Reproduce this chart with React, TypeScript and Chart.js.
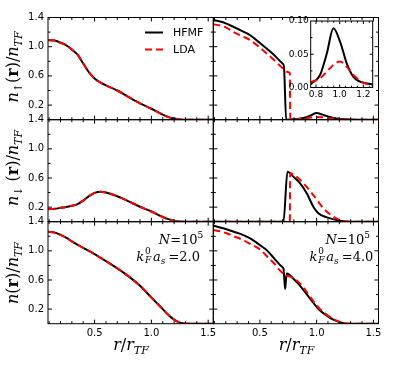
import React, { useEffect, useRef } from "react";
import { Chart, registerables } from "chart.js";

Chart.register(...registerables);

const FIG_W = 399;
const FIG_H = 369;

// ---------------- data ----------------
// left column: k_F^0 a_s = 2.0
const X_A2 = [0.09, 0.15, 0.2, 0.25, 0.3, 0.35, 0.4, 0.45, 0.5, 0.55, 0.6, 0.7, 0.8, 0.9, 1.0, 1.1, 1.15, 1.2, 1.25, 1.3, 1.4, 1.545];
const UP_A2_HFMF = [1.09, 1.085, 1.055, 1.02, 0.96, 0.89, 0.77, 0.65, 0.565, 0.51, 0.47, 0.4, 0.31, 0.225, 0.15, 0.07, 0.035, 0.015, 0.004, 0, 0, 0];
const UP_A2_LDA = [1.09, 1.085, 1.055, 1.02, 0.96, 0.89, 0.77, 0.65, 0.565, 0.51, 0.47, 0.4, 0.31, 0.225, 0.15, 0.07, 0.035, 0.015, 0.004, 0, 0, 0];
const DOWN_A2_HFMF = [0.172, 0.178, 0.19, 0.203, 0.218, 0.24, 0.29, 0.35, 0.395, 0.41, 0.4, 0.35, 0.28, 0.205, 0.14, 0.065, 0.035, 0.012, 0.002, 0, 0, 0];
const DOWN_A2_LDA = [0.172, 0.178, 0.19, 0.203, 0.218, 0.24, 0.29, 0.35, 0.395, 0.41, 0.4, 0.35, 0.28, 0.205, 0.14, 0.065, 0.035, 0.012, 0.002, 0, 0, 0];
const TOT_A2_HFMF = [1.262, 1.25, 1.22, 1.18, 1.13, 1.085, 1.04, 0.998, 0.955, 0.908, 0.86, 0.76, 0.65, 0.52, 0.36, 0.2, 0.12, 0.055, 0.015, 0.002, 0, 0];
const TOT_A2_LDA = [1.262, 1.25, 1.22, 1.18, 1.13, 1.085, 1.04, 0.998, 0.955, 0.908, 0.86, 0.76, 0.65, 0.52, 0.36, 0.2, 0.12, 0.055, 0.015, 0.002, 0, 0];

// right column: k_F^0 a_s = 4.0
const X_UP_A4_HFMF = [0.09, 0.15, 0.2, 0.27, 0.35, 0.415, 0.5, 0.56, 0.63, 0.7, 0.712, 0.732, 0.8, 0.9, 0.95, 1.0, 1.05, 1.1, 1.15, 1.2, 1.3, 1.4, 1.545];
const UP_A4_HFMF = [1.363, 1.345, 1.32, 1.27, 1.21, 1.157, 1.05, 0.975, 0.88, 0.77, 0.73, 0, 0.005, 0.03, 0.06, 0.092, 0.07, 0.045, 0.025, 0.012, 0.002, 0, 0];
const X_UP_A4_LDA = [0.09, 0.15, 0.2, 0.27, 0.35, 0.415, 0.5, 0.56, 0.63, 0.704, 0.745, 0.764, 0.768, 0.85, 0.9, 0.95, 1.0, 1.05, 1.1, 1.15, 1.2, 1.3, 1.545];
const UP_A4_LDA = [1.308, 1.29, 1.265, 1.2, 1.14, 1.089, 0.99, 0.906, 0.81, 0.7, 0.655, 0.64, 0, 0.01, 0.02, 0.03, 0.036, 0.035, 0.025, 0.015, 0.006, 0, 0];

const X_DOWN_A4_HFMF = [0.09, 0.5, 0.708, 0.743, 0.8, 0.855, 0.913, 0.971, 1.015, 1.089, 1.206, 1.294, 1.545];
const DOWN_A4_HFMF = [0, 0, 0, 0.686, 0.61, 0.526, 0.39, 0.206, 0.115, 0.06, 0.014, 0, 0];
const X_DOWN_A4_LDA = [0.09, 0.5, 0.764, 0.767, 0.855, 0.971, 1.06, 1.147, 1.235, 1.3, 1.545];
const DOWN_A4_LDA = [0, 0, 0, 0.664, 0.572, 0.366, 0.184, 0.069, 0.01, 0, 0];

const X_TOT_A4_HFMF = [0.09, 0.15, 0.2, 0.27, 0.35, 0.415, 0.5, 0.56, 0.63, 0.7, 0.708, 0.716, 0.723, 0.73, 0.738, 0.8, 0.855, 0.942, 1.03, 1.09, 1.147, 1.235, 1.3, 1.545];
const TOT_A4_HFMF = [1.345, 1.32, 1.3, 1.262, 1.22, 1.17, 1.08, 1.01, 0.89, 0.775, 0.758, 0.6, 0.48, 0.6, 0.69, 0.61, 0.52, 0.345, 0.18, 0.11, 0.055, 0.008, 0, 0];
const X_TOT_A4_LDA = [0.09, 0.15, 0.2, 0.27, 0.35, 0.415, 0.5, 0.56, 0.63, 0.68, 0.72, 0.767, 0.855, 0.943, 1.03, 1.147, 1.235, 1.3, 1.545];
const TOT_A4_LDA = [1.285, 1.27, 1.245, 1.2, 1.15, 1.095, 1.02, 0.93, 0.82, 0.725, 0.67, 0.645, 0.55, 0.37, 0.2, 0.065, 0.01, 0, 0];

// inset (n_up, k_F^0 a_s = 4.0, zoom on the outer shell)
const INSET_X = [0.755, 0.764, 0.834, 0.891, 0.947, 1.003, 1.06, 1.116, 1.173, 1.23, 1.279];
const INSET_HFMF = [0.005, 0.0063, 0.0188, 0.051, 0.089, 0.069, 0.036, 0.016, 0.0087, 0.006, 0.005];
const INSET_LDA = [0.008, 0.0087, 0.0138, 0.0238, 0.034, 0.039, 0.031, 0.0188, 0.0102, 0.005, 0.003];

// ticks / labels
const X_TICKS = [0.5, 1.0, 1.5];
const Y_TICKS = [0.2, 0.6, 1.0, 1.4];
const INSET_X_TICKS = [0.8, 1.0, 1.2];
const INSET_Y_TICKS = [0, 0.05, 0.1];
const SERIES_NAMES = ["HFMF", "LDA"];
const COUPLINGS = ["2.0", "4.0"];
const N_EXP = "5";

// ---------------- styling / layout ----------------
const BLACK = "#000000";
const RED = "#ff0000";
const DASH = [7, 4];
const TICK_FONT = "DejaVu Sans";
const MATH_FONT = '"DejaVu Serif", serif';

const COLS = [
  { l: 48, r: 213.3 },
  { l: 213.3, r: 378.5 },
];
const ROWS = [
  { t: 17.5, b: 119.7 },
  { t: 119.7, b: 221.7 },
  { t: 221.7, b: 323.7 },
];

function steps(a: number, b: number, s: number): number[] {
  const out: number[] = [];
  const n = Math.round((b - a) / s);
  for (let i = 0; i <= n; i++) out.push(Math.round((a + i * s) * 1000) / 1000);
  return out;
}

type Series = { x: number[]; y: number[]; color: string; dashed: boolean };
type PanelSpec = {
  key: string;
  left: number;
  right: number;
  top: number;
  bottom: number;
  xMin: number;
  xMax: number;
  yMin: number;
  yMax: number;
  showX: boolean;
  showY: boolean;
  xTicks: number[];
  yTicks: number[];
  xMinor: number[];
  yMinor: number[];
  xDigits: number;
  yDigits: number;
  fontSize: number;
  xPad: number;
  yPad: number;
  yAxisW: number;
  xAxisH: number;
  tickMajor: number;
  tickMinor: number;
  series: Series[];
  legend?: boolean;
};

function pair(xh: number[], yh: number[], xl: number[], yl: number[]): Series[] {
  return [
    { x: xh, y: yh, color: BLACK, dashed: false },
    { x: xl, y: yl, color: RED, dashed: true },
  ];
}

const MAIN_X_MINOR = steps(0.1, 1.5, 0.1);
const MAIN_Y_MINOR = steps(0.2, 1.2, 0.2);

function mainPanel(row: number, col: number, series: Series[], legend = false): PanelSpec {
  return {
    key: `p${row}${col}`,
    left: COLS[col].l,
    right: COLS[col].r,
    top: ROWS[row].t,
    bottom: ROWS[row].b,
    xMin: 0.09,
    xMax: 1.545,
    yMin: 0,
    yMax: 1.4,
    showX: row === 2,
    showY: col === 0,
    xTicks: X_TICKS,
    yTicks: Y_TICKS,
    xMinor: MAIN_X_MINOR,
    yMinor: MAIN_Y_MINOR,
    xDigits: 1,
    yDigits: 1,
    fontSize: 10,
    xPad: 4,
    yPad: 4,
    yAxisW: 34,
    xAxisH: 20,
    tickMajor: 4,
    tickMinor: 2.5,
    series,
    legend,
  };
}

const PANELS: PanelSpec[] = [
  mainPanel(0, 0, pair(X_A2, UP_A2_HFMF, X_A2, UP_A2_LDA), true),
  mainPanel(0, 1, pair(X_UP_A4_HFMF, UP_A4_HFMF, X_UP_A4_LDA, UP_A4_LDA)),
  mainPanel(1, 0, pair(X_A2, DOWN_A2_HFMF, X_A2, DOWN_A2_LDA)),
  mainPanel(1, 1, pair(X_DOWN_A4_HFMF, DOWN_A4_HFMF, X_DOWN_A4_LDA, DOWN_A4_LDA)),
  mainPanel(2, 0, pair(X_A2, TOT_A2_HFMF, X_A2, TOT_A2_LDA)),
  mainPanel(2, 1, pair(X_TOT_A4_HFMF, TOT_A4_HFMF, X_TOT_A4_LDA, TOT_A4_LDA)),
  {
    key: "inset",
    left: 310.7,
    right: 372.7,
    top: 21,
    bottom: 87.5,
    xMin: 0.755,
    xMax: 1.279,
    yMin: 0,
    yMax: 0.1,
    showX: true,
    showY: true,
    xTicks: INSET_X_TICKS,
    yTicks: INSET_Y_TICKS,
    xMinor: steps(0.8, 1.25, 0.05),
    yMinor: steps(0, 0.1, 0.025),
    xDigits: 1,
    yDigits: 2,
    fontSize: 9,
    xPad: 2,
    yPad: 2,
    yAxisW: 30,
    xAxisH: 14,
    tickMajor: 3,
    tickMinor: 1.8,
    series: pair(INSET_X, INSET_HFMF, INSET_X, INSET_LDA),
  },
];

function buildChart(canvas: HTMLCanvasElement, p: PanelSpec) {
  const isMajor = (list: number[], v: number) => list.some((t) => Math.abs(t - v) < 1e-6);
  const decor = {
    id: "decor_" + p.key,
    afterDatasetsDraw(chart: any) {
      const { ctx, chartArea: a } = chart;
      const xs = chart.scales.x;
      const ys = chart.scales.y;
      ctx.save();
      ctx.setLineDash([]);
      ctx.strokeStyle = BLACK;
      ctx.lineWidth = 1;
      ctx.beginPath();
      for (const v of p.xMinor) {
        const px = xs.getPixelForValue(v);
        if (px < a.left + 0.5 || px > a.right - 0.5) continue;
        const len = isMajor(p.xTicks, v) ? p.tickMajor : p.tickMinor;
        ctx.moveTo(px, a.bottom);
        ctx.lineTo(px, a.bottom - len);
        ctx.moveTo(px, a.top);
        ctx.lineTo(px, a.top + len);
      }
      for (const v of p.yMinor) {
        const py = ys.getPixelForValue(v);
        if (py < a.top + 0.5 || py > a.bottom - 0.5) continue;
        const len = isMajor(p.yTicks, v) ? p.tickMajor : p.tickMinor;
        ctx.moveTo(a.left, py);
        ctx.lineTo(a.left + len, py);
        ctx.moveTo(a.right, py);
        ctx.lineTo(a.right - len, py);
      }
      ctx.stroke();
      ctx.strokeRect(a.left, a.top, a.right - a.left, a.bottom - a.top);

      if (p.legend) {
        const x0 = a.left + 97;
        const x1 = a.left + 115;
        const tx = a.left + 125;
        const y1 = a.top + 15;
        const y2 = a.top + 32;
        ctx.lineWidth = 2;
        ctx.strokeStyle = BLACK;
        ctx.beginPath();
        ctx.moveTo(x0, y1);
        ctx.lineTo(x1, y1);
        ctx.stroke();
        ctx.strokeStyle = RED;
        ctx.setLineDash(DASH);
        ctx.beginPath();
        ctx.moveTo(x0, y2);
        ctx.lineTo(x1, y2);
        ctx.stroke();
        ctx.setLineDash([]);
        ctx.fillStyle = BLACK;
        ctx.font = `11px "${TICK_FONT}"`;
        ctx.textBaseline = "middle";
        ctx.textAlign = "left";
        ctx.fillText(SERIES_NAMES[0], tx, y1 + 0.5);
        ctx.fillText(SERIES_NAMES[1], tx, y2 + 0.5);
      }
      ctx.restore();
    },
  };

  const datasets = p.series.map((s) => ({
    label: s.dashed ? SERIES_NAMES[1] : SERIES_NAMES[0],
    data: s.x.map((x, j) => ({ x, y: s.y[j] })),
    borderColor: s.color,
    backgroundColor: s.color,
    borderWidth: 2,
    borderDash: s.dashed ? DASH : [],
    pointRadius: 0,
    fill: false,
    cubicInterpolationMode: "monotone" as const,
    order: s.dashed ? 0 : 1,
  }));

  const tickFont = { family: TICK_FONT, size: p.fontSize };

  return new Chart(canvas, {
    type: "line",
    data: { datasets },
    options: {
      animation: false,
      responsive: false,
      maintainAspectRatio: false,
      events: [],
      layout: {
        padding: {
          left: p.showY ? p.left - p.yAxisW : p.left,
          right: FIG_W - p.right,
          top: p.top,
          bottom: p.showX ? FIG_H - p.bottom - p.xAxisH : FIG_H - p.bottom,
        },
      },
      plugins: {
        legend: { display: false },
        tooltip: { enabled: false },
        title: { display: false },
      },
      scales: {
        x: {
          type: "linear",
          min: p.xMin,
          max: p.xMax,
          display: p.showX,
          grid: { display: false, drawTicks: false },
          border: { display: false },
          ticks: {
            autoSkip: false,
            maxRotation: 0,
            minRotation: 0,
            padding: p.xPad,
            color: BLACK,
            font: tickFont,
            callback: (v: any) => Number(v).toFixed(p.xDigits),
          },
          afterBuildTicks: (s: any) => {
            s.ticks = p.xTicks.map((value) => ({ value }));
          },
          afterFit: (s: any) => {
            s.height = p.showX ? p.xAxisH : 0;
          },
        },
        y: {
          type: "linear",
          min: p.yMin,
          max: p.yMax,
          display: p.showY,
          grid: { display: false, drawTicks: false },
          border: { display: false },
          ticks: {
            autoSkip: false,
            padding: p.yPad,
            color: BLACK,
            font: tickFont,
            callback: (v: any) => Number(v).toFixed(p.yDigits),
          },
          afterBuildTicks: (s: any) => {
            s.ticks = p.yTicks.map((value) => ({ value }));
          },
          afterFit: (s: any) => {
            s.width = p.showY ? p.yAxisW : 0;
          },
        },
      },
    },
    plugins: [decor],
  } as any);
}

function PanelCanvas({ spec }: { spec: PanelSpec }) {
  const ref = useRef<HTMLCanvasElement | null>(null);
  useEffect(() => {
    if (!ref.current) return;
    const chart = buildChart(ref.current, spec);
    return () => chart.destroy();
  }, [spec]);
  return (
    <canvas
      ref={ref}
      width={FIG_W}
      height={FIG_H}
      style={{ position: "absolute", left: 0, top: 0, width: FIG_W, height: FIG_H, pointerEvents: "none" }}
    />
  );
}

// ---------------- math-like text ----------------
const Sub = ({ children, size, shift }: { children: any; size: number; shift: number }) => (
  <span style={{ fontSize: size, verticalAlign: -shift, lineHeight: 0 }}>{children}</span>
);
const Sup = ({ children, size, shift }: { children: any; size: number; shift: number }) => (
  <span style={{ fontSize: size, verticalAlign: shift, lineHeight: 0 }}>{children}</span>
);

const YLABEL_SIZE = 16;
const YSUB = 11;

function YLabel({ cx, cy, arrow, gap }: { cx: number; cy: number; arrow?: string; gap?: boolean }) {
  return (
    <div
      style={{
        position: "absolute",
        left: cx,
        top: cy,
        transform: "translate(-50%, -50%) rotate(-90deg)",
        whiteSpace: "nowrap",
        fontFamily: MATH_FONT,
        fontSize: YLABEL_SIZE,
        lineHeight: `${YLABEL_SIZE}px`,
        color: BLACK,
      }}
    >
      <i>n</i>
      {arrow ? (
        <Sub size={YSUB} shift={4}>
          {arrow}
        </Sub>
      ) : null}
      {gap ? <span style={{ display: "inline-block", width: 5 }} /> : null}
      <span>(</span>
      <b style={{ fontStyle: "normal" }}>r</b>
      <span>)/</span>
      <i>n</i>
      <Sub size={YSUB} shift={4}>
        <i>TF</i>
      </Sub>
    </div>
  );
}

function XLabel({ cx }: { cx: number }) {
  return (
    <div
      style={{
        position: "absolute",
        left: cx,
        top: 337,
        transform: "translateX(-50%)",
        whiteSpace: "nowrap",
        fontFamily: MATH_FONT,
        fontSize: YLABEL_SIZE,
        lineHeight: `${YLABEL_SIZE}px`,
        color: BLACK,
      }}
    >
      <i>r</i>/<i>r</i>
      <Sub size={YSUB} shift={4}>
        <i>TF</i>
      </Sub>
    </div>
  );
}

const ANN_SIZE = 13;

function Annotation({ right1, right2, coupling }: { right1: number; right2: number; coupling: string }) {
  const base = {
    position: "absolute" as const,
    whiteSpace: "nowrap" as const,
    fontFamily: MATH_FONT,
    fontSize: ANN_SIZE,
    lineHeight: `${ANN_SIZE}px`,
    color: BLACK,
  };
  return (
    <>
      <div style={{ ...base, right: FIG_W - right1, top: 233 }}>
        <i>N</i>=10
        <Sup size={9} shift={6}>
          {N_EXP}
        </Sup>
      </div>
      <div style={{ ...base, right: FIG_W - right2, top: 247.5 }}>
        <i>k</i>
        <span style={{ display: "inline-block", position: "relative", width: 7, height: ANN_SIZE }}>
          <span style={{ position: "absolute", left: 1, top: -1, fontSize: 9, lineHeight: "9px", fontStyle: "normal" }}>0</span>
          <span style={{ position: "absolute", left: 1, top: 8, fontSize: 9, lineHeight: "9px", fontStyle: "italic" }}>F</span>
        </span>
        <span style={{ display: "inline-block", width: 2 }} />
        <i>a</i>
        <Sub size={9} shift={3}>
          <i>s</i>
        </Sub>
        <span style={{ display: "inline-block", width: 3 }} />={coupling}
      </div>
    </>
  );
}

export default function App() {
  return (
    <div
      style={{
        position: "fixed",
        left: 0,
        top: 0,
        width: FIG_W,
        height: FIG_H,
        background: "#ffffff",
        overflow: "hidden",
      }}
    >
      {PANELS.map((p) => (
        <PanelCanvas key={p.key} spec={p} />
      ))}
      <YLabel cx={13} cy={67} arrow="↑" />
      <YLabel cx={13} cy={168} arrow="↓" gap />
      <YLabel cx={13} cy={273} />
      <XLabel cx={131} />
      <XLabel cx={296.5} />
      <Annotation right1={203.3} right2={200} coupling={COUPLINGS[0]} />
      <Annotation right1={370} right2={373.3} coupling={COUPLINGS[1]} />
    </div>
  );
}
